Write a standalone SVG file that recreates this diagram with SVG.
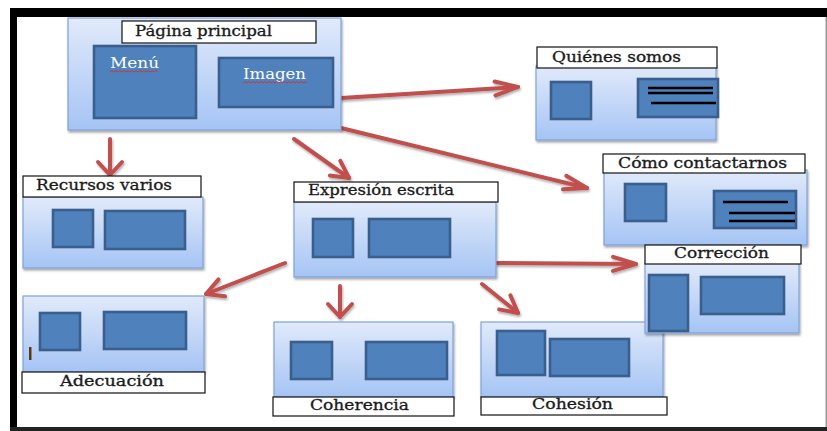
<svg xmlns="http://www.w3.org/2000/svg" width="827" height="431" viewBox="0 0 827 431">
<defs>
<linearGradient id="bg" x1="0" y1="0" x2="0" y2="1">
<stop offset="0" stop-color="#E1EAFA"/>
<stop offset="1" stop-color="#A5C4F4"/>
</linearGradient>
<filter id="sh" x="-10%" y="-10%" width="120%" height="130%">
<feDropShadow dx="1" dy="2" stdDeviation="1.2" flood-color="#000" flood-opacity="0.35"/>
</filter>
<filter id="ash" filterUnits="userSpaceOnUse" x="0" y="0" width="827" height="431">
<feDropShadow dx="1" dy="2" stdDeviation="1.2" flood-color="#000" flood-opacity="0.3"/>
</filter>
<marker id="hl" viewBox="-30 -15 34 30" refX="0" refY="0" markerWidth="34" markerHeight="30" markerUnits="userSpaceOnUse" orient="auto">
<path d="M-23,-7 L0,0 L-23,7" fill="none" stroke="#C0504D" stroke-width="4" stroke-linecap="round" stroke-linejoin="round"/>
</marker>
<marker id="hm" viewBox="-30 -15 34 30" refX="0" refY="0" markerWidth="34" markerHeight="30" markerUnits="userSpaceOnUse" orient="auto">
<path d="M-17,-9 L0,0 L-17,9" fill="none" stroke="#C0504D" stroke-width="4" stroke-linecap="round" stroke-linejoin="round"/>
</marker>
<marker id="hs" viewBox="-30 -15 34 30" refX="0" refY="0" markerWidth="34" markerHeight="30" markerUnits="userSpaceOnUse" orient="auto">
<path d="M-13,-12 L0,0 L-13,12" fill="none" stroke="#C0504D" stroke-width="4" stroke-linecap="round" stroke-linejoin="round"/>
</marker>
</defs>
<style>
.body{fill:url(#bg);stroke:#7EA2D8;stroke-width:1.2;filter:url(#sh)}
.in{fill:#4F81BD;stroke:#3A5F8D;stroke-width:2.6}
.tb{fill:#fff;stroke:#111;stroke-width:1.2}
.t{font-family:"DejaVu Serif","Liberation Serif",serif;font-size:14px;fill:#1a1a1a;stroke:#1a1a1a;stroke-width:0.3}
.w{font-family:"DejaVu Serif","Liberation Serif",serif;font-size:14px;fill:#ffffff}
.ln{stroke:#000;stroke-width:2.6}
.sq{fill:none;stroke:#D03030;stroke-width:0.9}
.ar{fill:none;stroke:#C0504D;stroke-width:4;stroke-linecap:round}
</style>
<rect width="827" height="431" fill="#fff"/>
<g id="frame">
<rect x="10" y="8" width="817" height="9" fill="#000"/>
<rect x="10" y="8" width="7" height="423" fill="#000"/>
<rect x="10" y="427" width="817" height="4" fill="#222"/>
<rect x="825.5" y="17" width="1.5" height="410" fill="#999"/>
</g>
<g id="connectors" filter="url(#ash)">
<line class="ar" x1="341" y1="98" x2="518" y2="87" marker-end="url(#hl)"/>
<line class="ar" x1="341" y1="128" x2="587" y2="188" marker-end="url(#hl)"/>
<line class="ar" x1="110" y1="139" x2="110" y2="175" marker-end="url(#hs)"/>
<line class="ar" x1="294" y1="139" x2="349" y2="178" marker-end="url(#hm)"/>
<line class="ar" x1="285" y1="263" x2="206" y2="294" marker-end="url(#hm)"/>
<line class="ar" x1="340" y1="286" x2="340" y2="317" marker-end="url(#hs)"/>
<line class="ar" x1="482" y1="284" x2="518" y2="313" marker-end="url(#hm)"/>
<line class="ar" x1="497" y1="263" x2="636" y2="264" marker-end="url(#hl)"/>
</g>
<g id="pagina-principal">
<rect class="body" x="68" y="18" width="273" height="112"/>
<rect class="tb" x="122" y="21" width="194" height="22"/>
<text class="t" x="135" y="36" textLength="137" lengthAdjust="spacingAndGlyphs">Página principal</text>
<rect class="in" x="94" y="46" width="102" height="72"/>
<text class="w" x="110" y="68" textLength="49" lengthAdjust="spacingAndGlyphs">Menú</text>
<path class="sq" d="M110,72 l2,-1.5 l2,1.5 l2,-1.5 l2,1.5 l2,-1.5 l2,1.5 l2,-1.5 l2,1.5 l2,-1.5 l2,1.5 l2,-1.5 l2,1.5 l2,-1.5 l2,1.5 l2,-1.5 l2,1.5 l2,-1.5 l2,1.5 l2,-1.5 l2,1.5 l2,-1.5 l2,1.5 l2,-1.5 l2,1.5"/>
<rect class="in" x="219" y="58" width="114" height="49"/>
<text class="w" x="243" y="79" textLength="63" lengthAdjust="spacingAndGlyphs">Imagen</text>
<path class="sq" d="M243,83 l2,-1.5 l2,1.5 l2,-1.5 l2,1.5 l2,-1.5 l2,1.5 l2,-1.5 l2,1.5 l2,-1.5 l2,1.5 l2,-1.5 l2,1.5 l2,-1.5 l2,1.5 l2,-1.5 l2,1.5 l2,-1.5 l2,1.5 l2,-1.5 l2,1.5 l2,-1.5 l2,1.5 l2,-1.5 l2,1.5 l2,-1.5 l2,1.5 l2,-1.5 l2,1.5 l2,-1.5 l2,1.5 l2,-1.5 l2,1.5"/>
</g>
<g id="quienes-somos">
<rect class="body" x="536" y="66" width="180" height="74"/>
<rect class="tb" x="537" y="47" width="180" height="21"/>
<text class="t" x="552" y="62" textLength="129" lengthAdjust="spacingAndGlyphs">Quiénes somos</text>
<rect class="in" x="551" y="82" width="40" height="37"/>
<rect class="in" x="638" y="79" width="80" height="38"/>
<line class="ln" x1="648" y1="88" x2="713" y2="88"/>
<line class="ln" x1="648" y1="93" x2="713" y2="93"/>
<line class="ln" x1="651" y1="103" x2="716" y2="103"/>
</g>
<g id="como-contactarnos">
<rect class="body" x="604" y="170" width="203" height="75"/>
<rect class="tb" x="603" y="154" width="202" height="19"/>
<text class="t" x="618" y="168" textLength="169" lengthAdjust="spacingAndGlyphs">Cómo contactarnos</text>
<rect class="in" x="625" y="184" width="41" height="37"/>
<rect class="in" x="714" y="191" width="82" height="37"/>
<line class="ln" x1="723" y1="202" x2="788" y2="202"/>
<line class="ln" x1="729" y1="213" x2="795" y2="213"/>
<line class="ln" x1="729" y1="221" x2="795" y2="221"/>
</g>
<g id="recursos-varios">
<rect class="body" x="23" y="197" width="180" height="71"/>
<rect class="tb" x="23" y="176" width="178" height="21"/>
<text class="t" x="36" y="190" textLength="136" lengthAdjust="spacingAndGlyphs">Recursos varios</text>
<rect class="in" x="53" y="210" width="40" height="37"/>
<rect class="in" x="105" y="211" width="80" height="38"/>
</g>
<g id="expresion-escrita">
<rect class="body" x="294" y="202" width="202" height="75"/>
<rect class="tb" x="294" y="182" width="204" height="20"/>
<text class="t" x="308" y="195" textLength="146" lengthAdjust="spacingAndGlyphs">Expresión escrita</text>
<rect class="in" x="313" y="219" width="40" height="38"/>
<rect class="in" x="369" y="219" width="81" height="38"/>
</g>
<g id="adecuacion">
<rect class="body" x="23" y="296" width="181" height="76"/>
<rect class="tb" x="22" y="372" width="183" height="21"/>
<text class="t" x="60" y="386" textLength="104" lengthAdjust="spacingAndGlyphs">Adecuación</text>
<rect class="in" x="40" y="313" width="40" height="37"/>
<rect class="in" x="104" y="312" width="82" height="37"/>
<rect x="29" y="347" width="2.5" height="13" fill="#5A3A10"/>
</g>
<g id="coherencia">
<rect class="body" x="274" y="322" width="179" height="75"/>
<rect class="tb" x="273" y="397" width="181" height="19"/>
<text class="t" x="310" y="410" textLength="99" lengthAdjust="spacingAndGlyphs">Coherencia</text>
<rect class="in" x="291" y="342" width="41" height="37"/>
<rect class="in" x="366" y="342" width="81" height="37"/>
</g>
<g id="cohesion">
<rect class="body" x="481" y="322" width="182" height="75"/>
<rect class="tb" x="481" y="397" width="186" height="18"/>
<text class="t" x="532" y="409" textLength="81" lengthAdjust="spacingAndGlyphs">Cohesión</text>
<rect class="in" x="497" y="331" width="48" height="44"/>
<rect class="in" x="550" y="339" width="79" height="37"/>
</g>
<g id="correccion">
<rect class="body" x="645" y="263" width="154" height="70"/>
<rect class="tb" x="645" y="245" width="156" height="19"/>
<text class="t" x="674" y="258" textLength="95" lengthAdjust="spacingAndGlyphs">Corrección</text>
<rect class="in" x="649" y="275" width="39" height="56"/>
<rect class="in" x="701" y="277" width="83" height="37"/>
</g>
</svg>
